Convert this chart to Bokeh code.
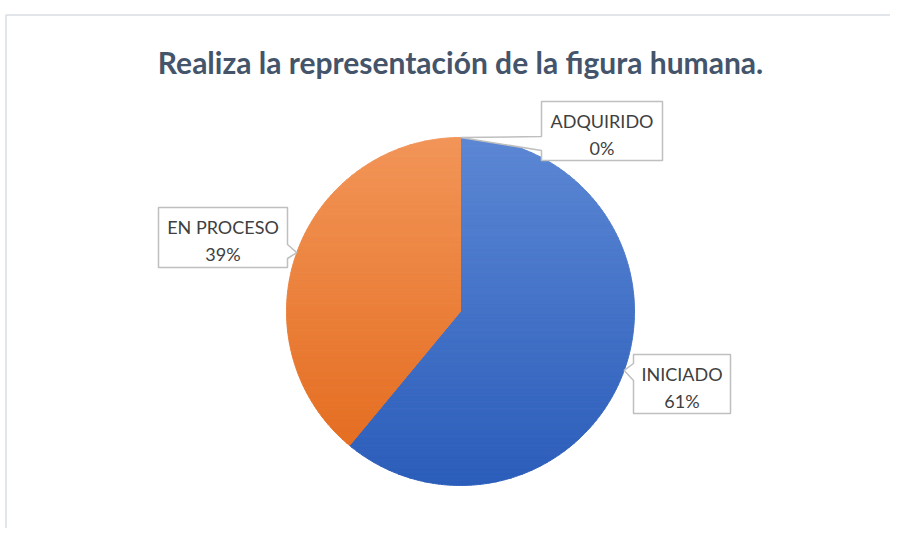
import math
from bokeh.plotting import figure
from bokeh.models import Range1d, ColumnDataSource, Label
from bokeh.embed import file_html
from bokeh.resources import INLINE
from bokeh.core.properties import value

# ---- data ----
categories = ["ADQUIRIDO", "INICIADO", "EN PROCESO"]
percentages = [0, 61, 39]
title_text = "Realiza la representación de la figura humana."

# ---- styles / layout ----
FONT = "Lato"
TEXT_COLOR = "#404040"
TITLE_COLOR = "#44546A"
grad_top = {"ADQUIRIDO": "#A5A5A5", "INICIADO": "#5C87D4", "EN PROCESO": "#F29558"}
grad_bot = {"ADQUIRIDO": "#8C8C8C", "INICIADO": "#2B5DBA", "EN PROCESO": "#E3691B"}
CX, CY, R = 460.0, -311.0, 174.0
# callout boxes: (left, top, right, bottom) in page px, pointer side, pointer base (y1, y2)
boxes = {
    "ADQUIRIDO": (541, 101, 662, 160, "left", 136, 150),
    "INICIADO": (633, 354, 730, 413, "left", 363, 380),
    "EN PROCESO": (158, 207, 287, 267, "right", 244, 258),
}

W, H = 890, 528
p = figure(width=W, height=H, x_range=Range1d(0, 890), y_range=Range1d(-528, 0),
           output_backend="svg", toolbar_location=None, min_border=0)
p.axis.visible = False
p.grid.visible = False
p.outline_line_color = None
p.background_fill_color = "white"
p.border_fill_color = "white"

# chart border
p.line([5.5, 5.5, 890], [-528, -14.5, -14.5], line_color="#D9DEE4", line_width=1.5)


def hex2rgb(h):
    h = h.lstrip("#")
    return [int(h[i:i + 2], 16) for i in (0, 2, 4)]


def mix(c1, c2, t):
    a, b = hex2rgb(c1), hex2rgb(c2)
    return "#%02x%02x%02x" % tuple(int(round(a[i] + (b[i] - a[i]) * t)) for i in range(3))


def clip(poly, y0, keep_above):
    out = []
    n = len(poly)
    for i in range(n):
        cur = poly[i]
        prv = poly[i - 1]
        cin = cur[1] >= y0 if keep_above else cur[1] <= y0
        pin = prv[1] >= y0 if keep_above else prv[1] <= y0
        if cin:
            if not pin:
                t = (y0 - prv[1]) / (cur[1] - prv[1])
                out.append((prv[0] + t * (cur[0] - prv[0]), y0))
            out.append(cur)
        elif pin:
            t = (y0 - prv[1]) / (cur[1] - prv[1])
            out.append((prv[0] + t * (cur[0] - prv[0]), y0))
    return out


# ---- pie slices with vertical gradient ----
xs, ys, cols = [], [], []
mids = {}
cum = 0.0
NB = 90
top_y, bot_y = CY + R, CY - R
for cat, pct in zip(categories, percentages):
    a0 = 90.0 - cum * 3.6
    a1 = a0 - pct * 3.6
    mids[cat] = math.radians((a0 + a1) / 2)
    cum += pct
    if pct <= 0:
        continue
    n = max(4, int(abs(a1 - a0) * 2))
    poly = [(CX, CY)]
    for k in range(n + 1):
        a = math.radians(a0 + (a1 - a0) * k / n)
        poly.append((CX + R * math.cos(a), CY + R * math.sin(a)))
    for b in range(NB):
        yb_top = top_y - (top_y - bot_y) * b / NB
        yb_bot = top_y - (top_y - bot_y) * (b + 1) / NB
        c = clip(clip(poly, yb_bot, True), yb_top, False)
        if len(c) < 3:
            continue
        xs.append([q[0] for q in c])
        ys.append([q[1] for q in c])
        cols.append(mix(grad_top[cat], grad_bot[cat], (b + 0.5) / NB))

p.patches(xs, ys, fill_color=cols, line_color=cols, line_width=1)

# ---- callouts ----
cx_, cy_ = [], []
tx, ty1, ty2, names, pcts = [], [], [], [], []
for cat, pct in zip(categories, percentages):
    L, T, Rr, B, side, b1, b2 = boxes[cat]
    tipx = CX + R * math.cos(mids[cat])
    tipy = CY + R * math.sin(mids[cat])
    if side == "left":
        pts = [(L, -T), (Rr, -T), (Rr, -B), (L, -B), (L, -b2), (tipx, tipy), (L, -b1)]
    else:
        pts = [(L, -T), (Rr, -T), (Rr, -b1), (tipx, tipy), (Rr, -b2), (Rr, -B), (L, -B)]
    cx_.append([q[0] for q in pts])
    cy_.append([q[1] for q in pts])
    tx.append((L + Rr) / 2)
    ty1.append(-(T + 19.5))
    ty2.append(-(T + 46))
    names.append(cat)
    pcts.append("%d%%" % pct)

p.patches(cx_, cy_, fill_color="white", line_color="#BFBFBF", line_width=1.5)
src = ColumnDataSource(dict(x=tx, y1=ty1, y2=ty2, name=names, pct=pcts))
p.text(x="x", y="y1", text="name", source=src, text_font=value(FONT), text_font_size="18px",
       text_color=TEXT_COLOR, text_align="center", text_baseline="middle")
p.text(x="x", y="y2", text="pct", source=src, text_font=value(FONT), text_font_size="18px",
       text_color=TEXT_COLOR, text_align="center", text_baseline="middle")

# ---- title ----
p.add_layout(Label(x=460, y=-61, text=title_text, text_font=FONT, text_font_style="bold",
                   text_font_size="30px", text_color=TITLE_COLOR, text_align="center",
                   text_baseline="middle"))

open("out.html", "w").write(file_html(p, INLINE))
